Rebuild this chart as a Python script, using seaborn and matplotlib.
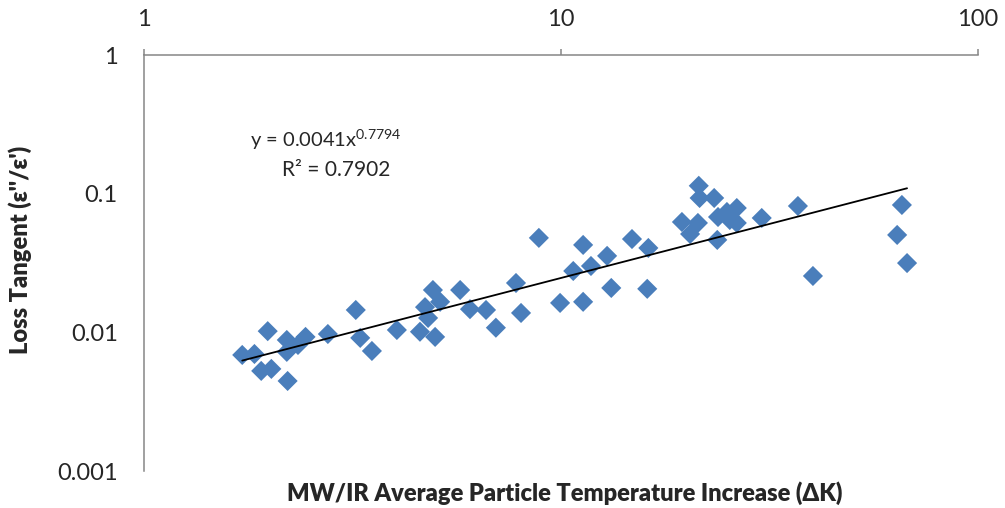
import numpy as np
import pandas as pd
import matplotlib
matplotlib.use("Agg")
import matplotlib.pyplot as plt
import seaborn as sns

sns.set_theme(style="white")
plt.rcParams['font.family'] = ['Lato', 'DejaVu Sans']
plt.rcParams['mathtext.default'] = 'regular'

# values
temp_increase = [1.72, 1.84, 1.91, 1.98, 2.02, 2.20, 2.20, 2.21, 2.34, 2.44,
                 2.76, 3.22, 3.30, 3.52, 4.04, 4.59, 4.72, 4.80, 4.93, 4.99,
                 5.13, 5.73, 6.05, 6.61, 6.98, 7.80, 8.02, 8.85, 9.95, 10.7,
                 11.3, 11.3, 11.8, 12.9, 13.2, 14.8, 16.1, 16.2, 19.5, 20.4,
                 21.3, 21.4, 21.5, 23.3, 23.7, 23.8, 25.0, 25.4, 26.4, 26.4,
                 30.3, 37.0, 40.2, 64.0, 65.7, 67.6]
loss_tangent = [0.00687, 0.00698, 0.00527, 0.0102, 0.00545, 0.00881, 0.00723, 0.00446, 0.00811, 0.00927,
                0.00973, 0.0145, 0.00912, 0.00734, 0.0104, 0.0101, 0.0152, 0.0127, 0.0202, 0.00927,
                0.0166, 0.0202, 0.0147, 0.0145, 0.0108, 0.0227, 0.0138, 0.0480, 0.0163, 0.0277,
                0.0427, 0.0166, 0.0301, 0.0356, 0.0209, 0.0471, 0.0206, 0.0406, 0.0625, 0.0512,
                0.0615, 0.114, 0.0931, 0.0931, 0.0464, 0.0679, 0.0738, 0.0646, 0.0788, 0.0615,
                0.0668, 0.0815, 0.0255, 0.0504, 0.0829, 0.0316]

# power trendline shown on the chart
fit_coef = 0.0041
fit_exp = 0.7794
fit_r2 = 0.7902

x_ticks = [1, 10, 100]
x_tick_labels = ['1', '10', '100']
y_ticks = [0.001, 0.01, 0.1, 1]
y_tick_labels = ['0.001', '0.01', '0.1', '1']

df = pd.DataFrame({'dT': temp_increase, 'tan': loss_tangent})

fig = plt.figure(figsize=(10.05, 5.08), dpi=100)
ax = fig.add_axes([0.1433, 0.0728, 0.8298, 0.8189])

sns.scatterplot(data=df, x='dT', y='tan', marker='D', s=105, color='#4A7EBB',
                edgecolor='none', linewidth=0, ax=ax, zorder=3)

# trendline across the data range
xs = np.logspace(np.log10(df['dT'].min()), np.log10(df['dT'].max()), 50)
ax.plot(xs, fit_coef * xs ** fit_exp, color='black', lw=1.3, zorder=4)

ax.set_xscale('log')
ax.set_yscale('log')
ax.set_xlim(1, 100)
ax.set_ylim(0.001, 1)
ax.xaxis.tick_top()
ax.set_xticks(x_ticks, x_tick_labels)
ax.set_yticks(y_ticks, y_tick_labels)
ax.minorticks_off()

for side in ['bottom', 'right']:
    ax.spines[side].set_visible(False)
for side in ['top', 'left']:
    ax.spines[side].set_color('#868686')
    ax.spines[side].set_linewidth(1.1)

ax.tick_params(axis='both', which='major', labelsize=17, color='#868686',
               width=1.1, direction='out')
ax.tick_params(axis='x', length=4, pad=14)
ax.tick_params(axis='y', length=6, pad=13)

ax.set_xlabel('MW/IR Average Particle Temperature Increase (ΔK)', fontsize=17)
ax.xaxis.set_label_position('bottom')
ax.xaxis.set_label_coords(0.505, -0.053)
ax.xaxis.label.set_va('center')
ax.xaxis.label.set_fontweight('heavy')
ax.set_ylabel("Loss Tangent (ε''/ε')", fontsize=17)
ax.yaxis.set_label_coords(-0.149, 0.531)
ax.yaxis.label.set_va('center')
ax.yaxis.label.set_fontweight('heavy')

ax.text(0.218, 0.796, r'y = 0.0041x$^{0.7794}$', transform=ax.transAxes,
        ha='center', va='center', fontsize=14.5)
ax.text(0.231, 0.724, f'R² = {fit_r2}', transform=ax.transAxes,
        ha='center', va='center', fontsize=15)

fig.savefig('out.png', dpi=100)
